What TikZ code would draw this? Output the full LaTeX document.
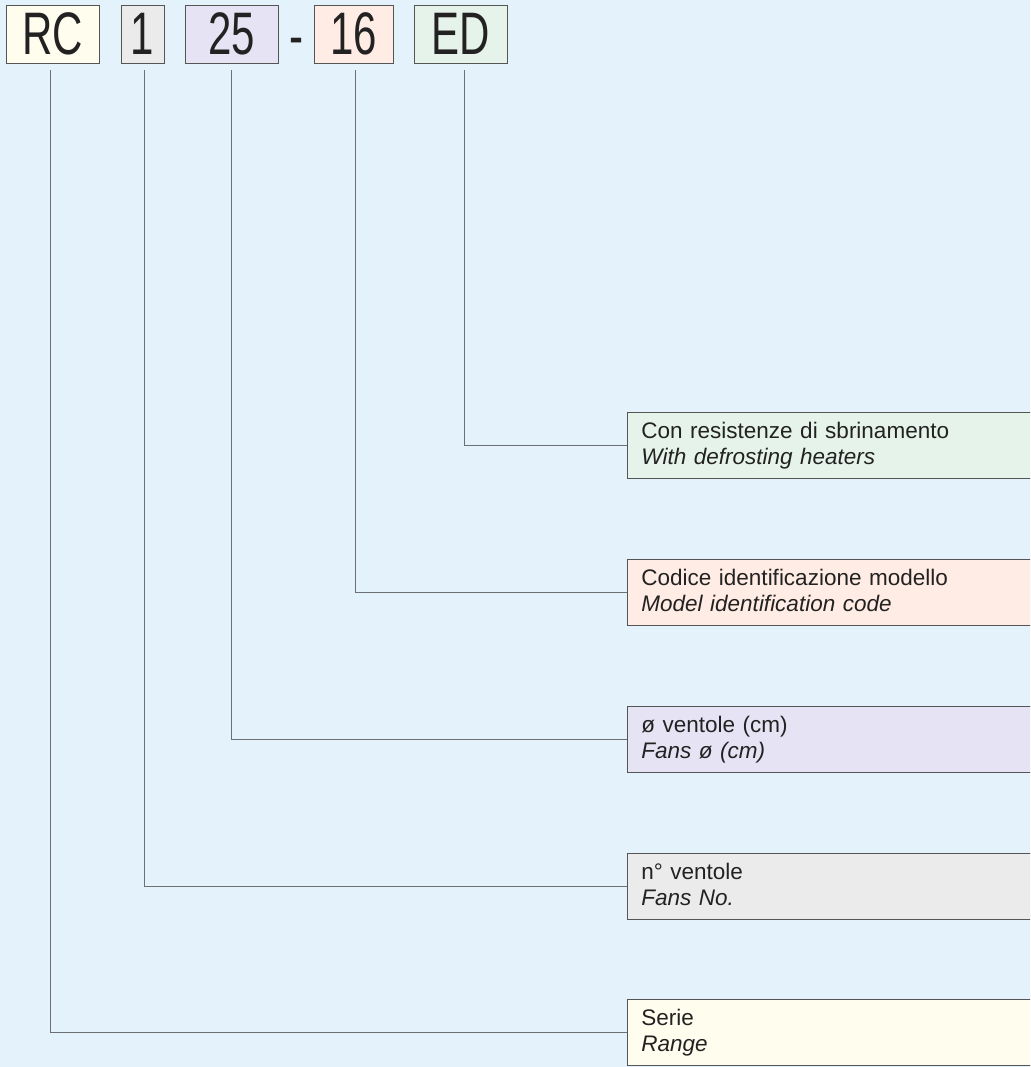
\documentclass[tikz,border=0pt]{standalone}
\usepackage{fontspec}
\setmainfont{Liberation Sans}
\newfontfamily\codefont[FakeStretch=0.7]{Liberation Sans}
\usepackage{xcolor}
\definecolor{page-bg}{HTML}{E4F3FB}
\definecolor{range-bg}{HTML}{FFFDEE}
\definecolor{fans-bg}{HTML}{EBEBEB}
\definecolor{dia-bg}{HTML}{E6E4F4}
\definecolor{model-bg}{HTML}{FFECE4}
\definecolor{heat-bg}{HTML}{E6F3EA}
\definecolor{frame-grey}{HTML}{555555}
\definecolor{lead-grey}{HTML}{6A7074}
\definecolor{ink}{HTML}{222222}

\newcommand{\twolines}[2]{\rule{0pt}{20pt}#1\\\textit{#2}\rule[-7pt]{0pt}{7pt}}

\begin{document}
\begin{tikzpicture}[x=1pt, y=-1pt,
        every node/.style={text=ink},
        codebox/.style={draw=frame-grey, line width=0.9pt, minimum height=58pt,
            inner sep=0pt, font=\codefont\fontsize{60}{60}\selectfont},
        infobox/.style={draw=frame-grey, line width=0.9pt, anchor=north west,
            minimum height=66pt, text width=400pt, inner xsep=14pt, inner ysep=0pt,
            align=left, font=\fontsize{22.5}{26}\selectfont},
        lead/.style={draw=lead-grey, line width=0.9pt}]
      \useasboundingbox (0,0) rectangle (1030,1067);
      \fill[page-bg] (0,0) rectangle (1030,1067);
      \clip (0,0) rectangle (1030,1067);
      % code letters
      \node[codebox, fill=range-bg, minimum width=93pt] (RC) at (52.5,34) {RC};
      \node[codebox, fill=fans-bg, minimum width=43pt] (NF) at (142.5,34) {1};
      \node[codebox, fill=dia-bg, minimum width=93pt] (DF) at (231.5,34) {25};
      \node[font=\codefont\fontsize{60}{60}\selectfont, inner sep=0pt, anchor=base] (DASH) at (296.5,57) {-};
      \node[codebox, fill=model-bg, minimum width=79pt] (MC) at (353.5,34) {16};
      \node[codebox, fill=heat-bg, minimum width=93pt] (ED) at (460.5,34) {ED};
      % meaning boxes
      \node[infobox, fill=heat-bg] (HEAT) at (627,412) {\twolines{Con resistenze di sbrinamento}{With defrosting heaters}};
      \node[infobox, fill=model-bg] (MOD) at (627,559) {\twolines{Codice identificazione modello}{Model identification code}};
      \node[infobox, fill=dia-bg] (DIA) at (627,706) {\twolines{ø ventole (cm)}{Fans ø (cm)}};
      \node[infobox, fill=fans-bg] (NUM) at (627,853) {\twolines{n° ventole}{Fans No.}};
      \node[infobox, fill=range-bg] (SER) at (627,999) {\twolines{Serie}{Range}};
      % leaders
      \draw[lead] ([xshift=3.5pt, yshift=-7pt]ED.south) |- (HEAT.west);
      \draw[lead] ([xshift=1.5pt, yshift=-7pt]MC.south) |- (MOD.west);
      \draw[lead] ([xshift=-0.5pt, yshift=-7pt]DF.south) |- (DIA.west);
      \draw[lead] ([xshift=1.5pt, yshift=-7pt]NF.south) |- (NUM.west);
      \draw[lead] ([xshift=-2.5pt, yshift=-7pt]RC.south) |- (SER.west);
    \end{tikzpicture}
\end{document}
